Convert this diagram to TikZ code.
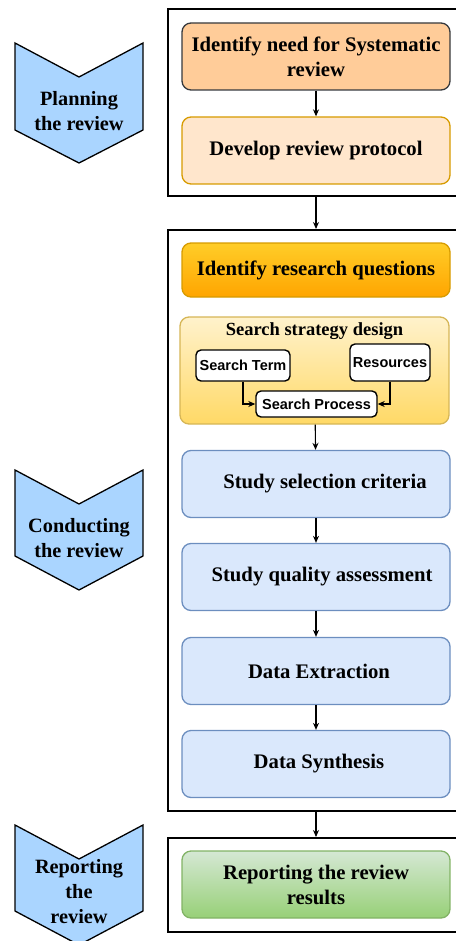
\documentclass[tikz,border=0pt]{standalone}
\usepackage{fontspec}
\setmainfont{Liberation Serif}
\newfontfamily\sansbold{Liberation Sans}
\usetikzlibrary{arrows.meta}
\definecolor{cAfill}{HTML}{FFCC99}
\definecolor{cAdraw}{HTML}{36393D}
\definecolor{cBfill}{HTML}{FFE6CC}
\definecolor{cBdraw}{HTML}{D79B00}
\definecolor{cCtop}{HTML}{FFCD28}
\definecolor{cCbot}{HTML}{FFA500}
\definecolor{cDtop}{HTML}{FFF2CC}
\definecolor{cDbot}{HTML}{FFD966}
\definecolor{cDdraw}{HTML}{D6B656}
\definecolor{cEfill}{HTML}{DAE8FC}
\definecolor{cEdraw}{HTML}{6C8EBF}
\definecolor{cFtop}{HTML}{D5E8D4}
\definecolor{cFbot}{HTML}{97D077}
\definecolor{cFdraw}{HTML}{82B366}
\definecolor{chev}{HTML}{AAD5FF}
\tikzset{
  frame/.style={draw=black, line width=2pt, minimum width=296pt, inner sep=0pt},
  stagebox/.style={rounded corners=9pt, minimum width=268pt, minimum height=67pt, line width=1.3pt,
    font=\fontsize{20.7}{25}\selectfont\bfseries, align=center, inner sep=0pt},
  smallbox/.style={draw=black, fill=white, rounded corners=5pt, line width=1.4pt,
    font=\sansbold\fontsize{14.5}{16}\selectfont\bfseries, inner sep=0pt},
  chevshape/.style={draw=black, fill=chev, line width=1.3pt, line join=miter},
  chevtext/.style={font=\fontsize{20.3}{25}\selectfont\bfseries, align=center},
  arr/.style={-{Stealth[length=7pt,width=6pt]}, line width=1.1pt},
}
\begin{document}
\begin{tikzpicture}[x=1pt, y=-1pt]
\useasboundingbox (0,0) rectangle (455,941);
% chevrons
\draw[chevshape] (15,43) -- (79,77) -- (143,43) -- (143,130) -- (79,163) -- (15,130) -- cycle;
\node[chevtext] (tplan) at (79,111) {Planning\\the review};
\draw[chevshape] (15,470) -- (79,504) -- (143,470) -- (143,556) -- (79,590) -- (15,556) -- cycle;
\node[chevtext] (tcond) at (79,538) {Conducting\\the review};
\draw[chevshape] (15,825) -- (79,859) -- (143,825) -- (143,911) -- (79,945) -- (15,911) -- cycle;
\node[chevtext] (trep) at (79,892) {Reporting\\the\\review};
% frames
\node[frame, minimum height=187pt] (fplan) at (316,102.5) {};
\node[frame, minimum height=581pt] (fcond) at (316,520.5) {};
\node[frame, minimum height=94pt] (frep) at (316,885) {};
% planning
\node[stagebox, draw=cAdraw, fill=cAfill] (need) at (316,56.5) {Identify need for Systematic\\review};
\node[stagebox, draw=cBdraw, fill=cBfill] (proto) at (316,150.5) {\raisebox{-1.5pt}{Develop review protocol}};
% conducting
\node[stagebox, draw=cBdraw, top color=cCtop, bottom color=cCbot, minimum height=54pt] (rq) at (316,270) {\raisebox{-2pt}{Identify research questions}};
\node[stagebox, draw=cDdraw, top color=cDtop, bottom color=cDbot, minimum width=269pt, minimum height=107pt] (ssd) at (314.5,370.5) {};
\node[font=\fontsize{18.5}{22}\selectfont\bfseries] (ssdt) at (314.5,331) {Search strategy design};
\node[smallbox, minimum width=94pt, minimum height=31pt] (sterm) at (243,365.5) {Search Term};
\node[smallbox, minimum width=80pt, minimum height=37pt] (res) at (390,362.5) {Resources};
\node[smallbox, minimum width=121pt, minimum height=26pt] (sproc) at (316.5,404) {Search Process};
\draw[arr] (sterm.south) |- (sproc.west);
\draw[arr] (res.south) |- (sproc.east);
\node[stagebox, draw=cEdraw, fill=cEfill] (sel) at (316,484) {\raisebox{-1.5pt}{\hspace*{18pt}Study selection criteria}};
\node[stagebox, draw=cEdraw, fill=cEfill] (qual) at (316,577) {\raisebox{-1.5pt}{\hspace*{12pt}Study quality assessment}};
\node[stagebox, draw=cEdraw, fill=cEfill] (extr) at (316,671) {\raisebox{-1pt}{\hspace*{6pt}Data Extraction}};
\node[stagebox, draw=cEdraw, fill=cEfill] (synth) at (316,764) {\raisebox{-1pt}{\hspace*{6pt}Data Synthesis}};
% reporting
\node[stagebox, draw=cFdraw, top color=cFtop, bottom color=cFbot] (rep) at (316,884.5) {Reporting the review\\results};
% connectors
\draw[arr] (need) -- (proto);
\draw[arr] (fplan.south) -- (fcond.north);
\draw[arr] (ssd) -- (sel);
\draw[arr] (sel) -- (qual);
\draw[arr] (qual) -- (extr);
\draw[arr] (extr) -- (synth);
\draw[arr] (fcond.south) -- (frep.north);
\end{tikzpicture}
\end{document}
